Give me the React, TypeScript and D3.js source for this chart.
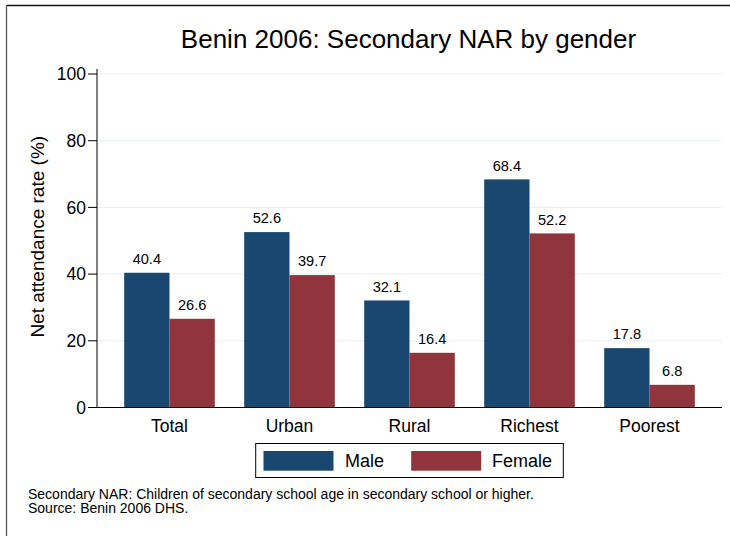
import React from "react";
import * as d3 from "d3";

const categories = ["Total", "Urban", "Rural", "Richest", "Poorest"];
const maleValues = [40.4, 52.6, 32.1, 68.4, 17.8];
const femaleValues = [26.6, 39.7, 16.4, 52.2, 6.8];
const yTicks = [0, 20, 40, 60, 80, 100];
const seriesNames = ["Male", "Female"];
const seriesColors = ["#1a476f", "#90353b"];
const titleText = "Benin 2006: Secondary NAR by gender";
const yLabel = "Net attendance rate (%)";
const notes = [
  "Secondary NAR: Children of secondary school age in secondary school or higher.",
  "Source: Benin 2006 DHS.",
];

const W = 730;
const H = 536;
const plot = { left: 97, right: 722, top: 74, bottom: 407.5 };
const FONT = "'Liberation Sans', Arial, sans-serif";

export default function App() {
  const x = d3
    .scaleBand<string>()
    .domain(categories)
    .range([plot.left, plot.right])
    .paddingInner(0.245)
    .paddingOuter(0.2265);
  const sub = d3
    .scaleBand<string>()
    .domain(seriesNames)
    .range([0, x.bandwidth()]);
  const y = d3.scaleLinear().domain([0, 100]).range([plot.bottom, plot.top]);
  const series = [maleValues, femaleValues];

  return (
    <svg
      width={W}
      height={H}
      style={{ position: "absolute", left: 0, top: 0, background: "#fff" }}
      fontFamily={FONT}
    >
      <rect x={0} y={0} width={W} height={H} fill="#fff" />
      <line x1={6.5} x2={W} y1={5.5} y2={5.5} stroke="#111" strokeWidth={1.3} />
      <line x1={6.5} x2={6.5} y1={5.5} y2={H} stroke="#555" strokeWidth={1.3} />
      <text x={408.5} y={47.5} textAnchor="middle" fontSize={26} fill="#000">
        {titleText}
      </text>
      {yTicks.map((t) => (
        <g key={t}>
          {t > 0 && (
            <line
              x1={plot.left}
              x2={plot.right}
              y1={y(t)}
              y2={y(t)}
              stroke="#eaf2f3"
              strokeWidth={1.2}
            />
          )}
          <line x1={plot.left - 9} x2={plot.left} y1={y(t)} y2={y(t)} stroke="#000" strokeWidth={1} />
          <text
            x={plot.left - 11}
            y={y(t)}
            dy="0.35em"
            textAnchor="end"
            fontSize={17.5}
            fill="#000"
          >
            {t}
          </text>
        </g>
      ))}
      {categories.map((c, i) =>
        series.map((vals, s) => {
          const bx = (x(c) as number) + (sub(seriesNames[s]) as number);
          const bw = sub.bandwidth();
          return (
            <g key={c + s}>
              <rect
                x={bx}
                y={y(vals[i])}
                width={bw}
                height={plot.bottom - y(vals[i])}
                fill={seriesColors[s]}
              />
              <text
                x={bx + bw / 2}
                y={y(vals[i]) - 8.7}
                textAnchor="middle"
                fontSize={14.6}
                fill="#000"
              >
                {vals[i].toFixed(1)}
              </text>
            </g>
          );
        })
      )}
      <line x1={plot.left} x2={plot.left} y1={plot.top - 5} y2={plot.bottom} stroke="#000" strokeWidth={1} />
      <line x1={plot.left - 9} x2={plot.right} y1={plot.bottom} y2={plot.bottom} stroke="#000" strokeWidth={1} />
      {categories.map((c) => (
        <text
          key={c}
          x={(x(c) as number) + x.bandwidth() / 2}
          y={432}
          textAnchor="middle"
          fontSize={17.5}
          fill="#000"
        >
          {c}
        </text>
      ))}
      <text
        transform={`translate(44,${(plot.top + plot.bottom) / 2 - 4}) rotate(-90)`}
        textAnchor="middle"
        fontSize={19}
        fill="#000"
      >
        {yLabel}
      </text>
      <rect x={255.7} y={443.5} width={307.6} height={34} fill="#fff" stroke="#000" strokeWidth={1} />
      {seriesNames.map((n, s) => (
        <g key={n}>
          <rect x={263.5 + s * 147.7} y={451} width={70} height={19.7} fill={seriesColors[s]} />
          <text x={345 + s * 147} y={467} fontSize={18} fill="#000">
            {n}
          </text>
        </g>
      ))}
      {notes.map((n, i) => (
        <text key={i} x={28} y={498.5 + i * 14.5} fontSize={14} fill="#000">
          {n}
        </text>
      ))}
    </svg>
  );
}
